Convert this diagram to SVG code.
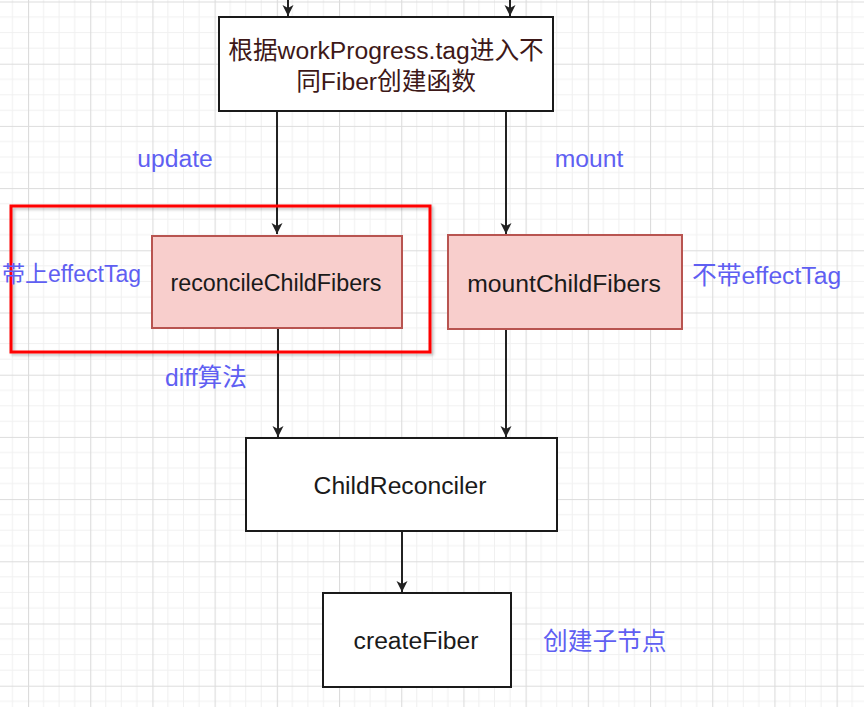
<svg xmlns="http://www.w3.org/2000/svg" width="864" height="707" viewBox="0 0 864 707">
  <style>
    text { font-family: "Liberation Sans", "Noto Sans CJK SC", sans-serif; font-size: 24.7px; dominant-baseline: central; }
    .node { fill: #ffffff; stroke: #1a1a1a; stroke-width: 2; }
    .pink { fill: #f8cecc; stroke: #b85450; stroke-width: 2; }
    .ntext { fill: #1a1a1a; text-anchor: middle; }
    .ttext { fill: #3d1818; text-anchor: middle; }
    .label { fill: #5f5ff2; }
    .edge { stroke: #222; stroke-width: 2; fill: none; marker-end: url(#arrow); }
  </style>
  <defs>
    <pattern id="grid" patternUnits="userSpaceOnUse" x="28" y="1.5" width="62.2" height="62.2">
      <g stroke="#f0f0f0" stroke-width="1">
        <line x1="15.55" y1="0" x2="15.55" y2="62.2"/>
        <line x1="31.1" y1="0" x2="31.1" y2="62.2"/>
        <line x1="46.65" y1="0" x2="46.65" y2="62.2"/>
        <line x1="0" y1="15.55" x2="62.2" y2="15.55"/>
        <line x1="0" y1="31.1" x2="62.2" y2="31.1"/>
        <line x1="0" y1="46.65" x2="62.2" y2="46.65"/>
      </g>
      <g stroke="#dcdcdc" stroke-width="1.2">
        <line x1="0.5" y1="0" x2="0.5" y2="62.2"/>
        <line x1="0" y1="0.5" x2="62.2" y2="0.5"/>
      </g>
    </pattern>
    <marker id="arrow" markerUnits="userSpaceOnUse" markerWidth="12" markerHeight="12" viewBox="0 0 12 12" refX="11" refY="6" orient="auto">
      <path d="M0,0.5 L11,6 L0,11.5 L3,6 Z" fill="#222"/>
    </marker>
    <filter id="shadow" x="-5%" y="-5%" width="110%" height="115%">
      <feDropShadow dx="2" dy="2" stdDeviation="1.5" flood-color="#000" flood-opacity="0.25"/>
    </filter>
  </defs>

  <rect width="864" height="707" fill="#ffffff"/>
  <rect width="864" height="707" fill="url(#grid)"/>

  <g id="connectors">
    <line class="edge" x1="288" y1="0" x2="288" y2="16"/>
    <line class="edge" x1="510" y1="0" x2="510" y2="16"/>
    <line class="edge" x1="277" y1="111" x2="277" y2="234"/>
    <line class="edge" x1="506" y1="111" x2="506" y2="234"/>
    <line class="edge" x1="278" y1="329" x2="278" y2="437"/>
    <line class="edge" x1="506" y1="329" x2="506" y2="437"/>
    <line class="edge" x1="402" y1="531" x2="402" y2="592"/>
  </g>

  <g id="highlight">
    <rect x="11" y="206" width="419" height="146" fill="none" stroke="#ff0000" stroke-width="3" filter="url(#shadow)"/>
  </g>

  <g id="node-tag">
    <rect class="node" x="219" y="17" width="334" height="94"/>
    <text class="ttext" x="386" y="50">根据workProgress.tag进入不</text>
    <text class="ttext" x="386" y="81">同Fiber创建函数</text>
  </g>

  <g id="node-reconcile">
    <rect class="pink" x="152" y="236" width="250" height="92"/>
    <text class="ntext" x="276" y="283" style="font-size:23.3px">reconcileChildFibers</text>
  </g>

  <g id="node-mount">
    <rect class="pink" x="448" y="235" width="234" height="94"/>
    <text class="ntext" x="564" y="283">mountChildFibers</text>
  </g>

  <g id="node-childreconciler">
    <rect class="node" x="246" y="438" width="311" height="93"/>
    <text class="ntext" x="400" y="485">ChildReconciler</text>
  </g>

  <g id="node-createfiber">
    <rect class="node" x="323" y="593" width="188" height="94"/>
    <text class="ntext" x="416" y="640">createFiber</text>
  </g>

  <g id="labels">
    <text class="label" x="175" y="158" text-anchor="middle">update</text>
    <text class="label" x="589" y="158" text-anchor="middle">mount</text>
    <text class="label" x="141" y="274" text-anchor="end" style="font-size:23px">带上effectTag</text>
    <text class="label" x="165" y="377">diff算法</text>
    <text class="label" x="692" y="275">不带effectTag</text>
    <text class="label" x="543" y="641">创建子节点</text>
  </g>
</svg>
